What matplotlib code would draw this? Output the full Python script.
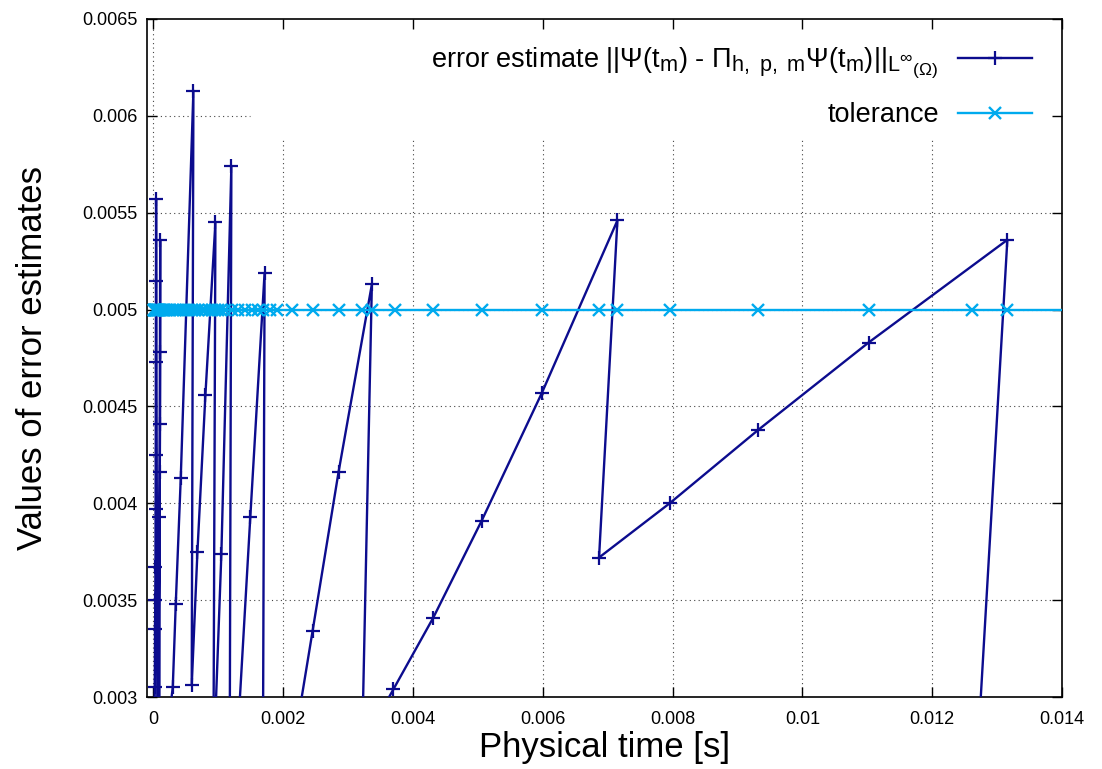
import matplotlib
matplotlib.use("Agg")
import matplotlib.pyplot as plt
import matplotlib._mathtext as mathtext_internals
from matplotlib.ticker import FuncFormatter

plt.rcParams["font.family"] = ["Liberation Sans", "DejaVu Sans"]
plt.rcParams["mathtext.fontset"] = "custom"
plt.rcParams["mathtext.rm"] = "Liberation Sans"
plt.rcParams["mathtext.it"] = "Liberation Sans"
plt.rcParams["mathtext.bf"] = "Liberation Sans:bold"
# gnuplot enhanced text scales sub/superscripts by 0.8, not TeX's 0.7
mathtext_internals.SHRINK_FACTOR = 0.8

# error estimate for every attempted step, in the order they were computed
# (a step back in time = rejected step, retried with smaller dt)
err_time = [
    0.000008, 0.000020, 0.000024, 0.000027, 0.000030, 0.000032, 0.000034,
    0.000036, 0.000038, 0.000040, 0.000062, 0.000092, 0.000097, 0.000100,
    0.000102, 0.000103, 0.000089, 0.000297, 0.000343, 0.000420, 0.000615,
    0.000589, 0.000677, 0.000800, 0.000954, 0.000923, 0.001046, 0.001200,
    0.001169, 0.001492, 0.001712, 0.001677, 0.002451, 0.002851, 0.003365,
    0.003215, 0.003697, 0.004312, 0.005057, 0.005985, 0.007149, 0.006866,
    0.007954, 0.009323, 0.011020, 0.013158, 0.012620, 0.014600,
]
err_value = [
    0.00268, 0.00305, 0.00335, 0.00350, 0.00367, 0.00397, 0.00425,
    0.00473, 0.00515, 0.00557, 0.00250, 0.00393, 0.00416, 0.00441,
    0.00478, 0.00536, 0.00247, 0.00305, 0.00348, 0.00413, 0.00613,
    0.00306, 0.00375, 0.00456, 0.00545, 0.00262, 0.00374, 0.00574,
    0.00205, 0.00393, 0.00519, 0.00176, 0.00334, 0.00416, 0.00513,
    0.00275, 0.00304, 0.00341, 0.00391, 0.00457, 0.00546, 0.00372,
    0.00400, 0.00438, 0.00483, 0.00536, 0.00226, 0.00280,
]

# times at which the tolerance was written out
tol_time = [
    0.000003, 0.000008, 0.000012, 0.000018, 0.000025, 0.000031, 0.000037,
    0.000043, 0.000051, 0.000062, 0.000074, 0.000088, 0.000103, 0.000123,
    0.000146, 0.000169, 0.000200, 0.000231, 0.000262, 0.000297, 0.000331,
    0.000369, 0.000415, 0.000462, 0.000508, 0.000554, 0.000600, 0.000646,
    0.000692, 0.000746, 0.000800, 0.000854, 0.000908, 0.000954, 0.001000,
    0.001046, 0.001108, 0.001208, 0.001308, 0.001415, 0.001523, 0.001615,
    0.001692, 0.001800, 0.001908, 0.002138, 0.002454, 0.002862, 0.003211,
    0.003365, 0.003723, 0.004312, 0.005057, 0.005985, 0.006866, 0.007149,
    0.007954, 0.009323, 0.011020, 0.012620, 0.013158, 0.014600,
]
TOLERANCE = 0.005

X_TICKS = [0, 0.002, 0.004, 0.006, 0.008, 0.01, 0.012, 0.014]
Y_TICKS = [0.003, 0.0035, 0.004, 0.0045, 0.005, 0.0055, 0.006, 0.0065]
XLIM = (-0.0001, 0.014)
YLIM = (0.003, 0.0065)

ERR_COLOR = "#0c0c8e"
TOL_COLOR = "#00aaee"

ERR_LABEL = (r"error estimate ||$\Psi$(t$_{\mathrm{m}}$) - "
             r"$\Pi_{\mathrm{h,\ p,\ m}}\Psi$(t$_{\mathrm{m}}$)||"
             r"$_{\mathrm{L}^{\infty}{}_{(\Omega)}}$")

fig = plt.figure(figsize=(11.02, 7.69), dpi=100)
ax = fig.add_axes([0.1334, 0.0936, 0.8303, 0.8817])

ax.plot(err_time, err_value, color=ERR_COLOR, lw=1.7, marker="+", ms=10,
        mew=1.6, label=ERR_LABEL, zorder=3)
ax.plot(tol_time, [TOLERANCE] * len(tol_time), color=TOL_COLOR, lw=1.7,
        marker="x", ms=8, mew=1.7, label="tolerance", zorder=4)

ax.set_xlim(*XLIM)
ax.set_ylim(*YLIM)
ax.set_xticks(X_TICKS)
ax.set_yticks(Y_TICKS)
fmt = FuncFormatter(lambda v, _: f"{v:g}")
ax.xaxis.set_major_formatter(fmt)
ax.yaxis.set_major_formatter(fmt)
ax.tick_params(direction="in", length=7, width=1, top=True, right=True,
               labelsize=13)
ax.tick_params(axis="x", pad=10)
ax.tick_params(axis="y", pad=7)
for s in ax.spines.values():
    s.set_linewidth(1.2)

# gnuplot-style dotted grid, kept out of the key area
key_left, key_bottom = 0.1126, 0.8215
grid_kw = dict(color="#444444", lw=0.8, ls=(0, (1, 3)), zorder=1)
for xt in X_TICKS:
    frac = (xt - XLIM[0]) / (XLIM[1] - XLIM[0])
    ax.axvline(xt, ymax=1.0 if frac < key_left else key_bottom, **grid_kw)
for yt in Y_TICKS[1:-1]:
    frac = (yt - YLIM[0]) / (YLIM[1] - YLIM[0])
    ax.axhline(yt, xmax=key_left if frac > key_bottom else 1.0, **grid_kw)

ax.set_xlabel("Physical time [s]", fontsize=25, labelpad=2)
ax.set_ylabel("Values of error estimates", fontsize=25, labelpad=24)

ax.legend(loc="upper right", bbox_to_anchor=(1.0, 1.004), markerfirst=False,
          frameon=False, fontsize=19.5, handlelength=2.75, handletextpad=0.7,
          labelspacing=0.8, borderaxespad=0.7)

fig.savefig("out.png", dpi=100)
